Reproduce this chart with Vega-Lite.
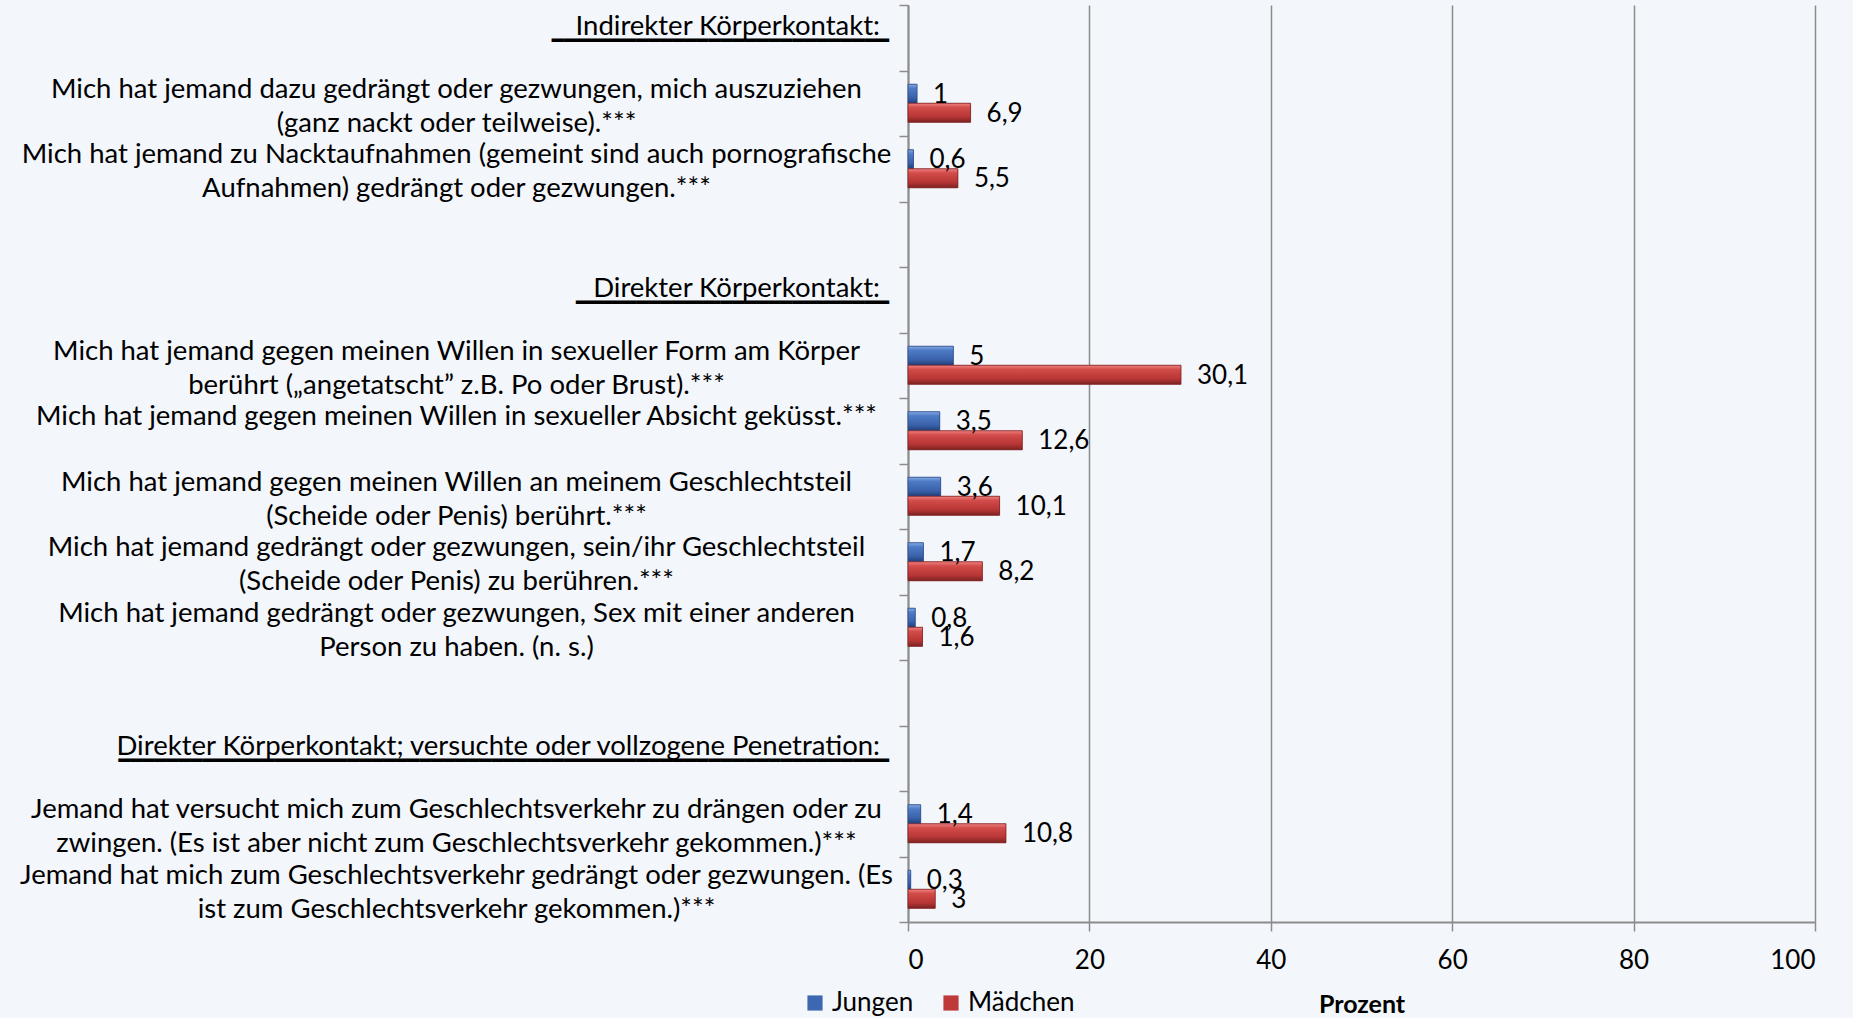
{
  "$schema": "https://vega.github.io/schema/vega-lite/v6.json",
  "width": 907,
  "height": 917,
  "autosize": {"type": "none"},
  "padding": {"left": 908, "top": 5, "right": 38, "bottom": 96},
  "background": "#F3F6FB",
  "config": {
    "view": {"stroke": null},
    "font": "Lato"
  },
  "datasets": {
    "bars": [
      {"label": "Mich hat jemand dazu gedrängt oder gezwungen, mich auszuziehen|(ganz nackt oder teilweise).***", "series": "Jungen", "value": 1, "valueText": "1"},
      {"label": "Mich hat jemand dazu gedrängt oder gezwungen, mich auszuziehen|(ganz nackt oder teilweise).***", "series": "Mädchen", "value": 6.9, "valueText": "6,9"},
      {"label": "Mich hat jemand zu Nacktaufnahmen (gemeint sind auch pornografische|Aufnahmen) gedrängt oder gezwungen.***", "series": "Jungen", "value": 0.6, "valueText": "0,6"},
      {"label": "Mich hat jemand zu Nacktaufnahmen (gemeint sind auch pornografische|Aufnahmen) gedrängt oder gezwungen.***", "series": "Mädchen", "value": 5.5, "valueText": "5,5"},
      {"label": "Mich hat jemand gegen meinen Willen in sexueller Form am Körper|berührt („angetatscht” z.B. Po oder Brust).***", "series": "Jungen", "value": 5, "valueText": "5"},
      {"label": "Mich hat jemand gegen meinen Willen in sexueller Form am Körper|berührt („angetatscht” z.B. Po oder Brust).***", "series": "Mädchen", "value": 30.1, "valueText": "30,1"},
      {"label": "Mich hat jemand gegen meinen Willen in sexueller Absicht geküsst.***", "series": "Jungen", "value": 3.5, "valueText": "3,5"},
      {"label": "Mich hat jemand gegen meinen Willen in sexueller Absicht geküsst.***", "series": "Mädchen", "value": 12.6, "valueText": "12,6"},
      {"label": "Mich hat jemand gegen meinen Willen an meinem Geschlechtsteil|(Scheide oder Penis) berührt.***", "series": "Jungen", "value": 3.6, "valueText": "3,6"},
      {"label": "Mich hat jemand gegen meinen Willen an meinem Geschlechtsteil|(Scheide oder Penis) berührt.***", "series": "Mädchen", "value": 10.1, "valueText": "10,1"},
      {"label": "Mich hat jemand gedrängt oder gezwungen, sein/ihr Geschlechtsteil|(Scheide oder Penis) zu berühren.***", "series": "Jungen", "value": 1.7, "valueText": "1,7"},
      {"label": "Mich hat jemand gedrängt oder gezwungen, sein/ihr Geschlechtsteil|(Scheide oder Penis) zu berühren.***", "series": "Mädchen", "value": 8.2, "valueText": "8,2"},
      {"label": "Mich hat jemand gedrängt oder gezwungen, Sex mit einer anderen|Person zu haben. (n. s.)", "series": "Jungen", "value": 0.8, "valueText": "0,8"},
      {"label": "Mich hat jemand gedrängt oder gezwungen, Sex mit einer anderen|Person zu haben. (n. s.)", "series": "Mädchen", "value": 1.6, "valueText": "1,6"},
      {"label": "Jemand hat versucht mich zum Geschlechtsverkehr zu drängen oder zu|zwingen. (Es ist aber nicht zum Geschlechtsverkehr gekommen.)***", "series": "Jungen", "value": 1.4, "valueText": "1,4"},
      {"label": "Jemand hat versucht mich zum Geschlechtsverkehr zu drängen oder zu|zwingen. (Es ist aber nicht zum Geschlechtsverkehr gekommen.)***", "series": "Mädchen", "value": 10.8, "valueText": "10,8"},
      {"label": "Jemand hat mich zum Geschlechtsverkehr gedrängt oder gezwungen. (Es|ist zum Geschlechtsverkehr gekommen.)***", "series": "Jungen", "value": 0.3, "valueText": "0,3"},
      {"label": "Jemand hat mich zum Geschlechtsverkehr gedrängt oder gezwungen. (Es|ist zum Geschlechtsverkehr gekommen.)***", "series": "Mädchen", "value": 3, "valueText": "3"}
    ],
    "headers": [
      {"label": "Indirekter Körperkontakt:", "value": 0},
      {"label": "Direkter Körperkontakt:", "value": 0},
      {"label": "Direkter Körperkontakt; versuchte oder vollzogene Penetration:", "value": 0}
    ]
  },
  "data": {"name": "bars"},
  "encoding": {
    "y": {
      "field": "label",
      "type": "nominal",
      "sort": null,
      "scale": {
        "domain": [
          "Indirekter Körperkontakt:",
          "Mich hat jemand dazu gedrängt oder gezwungen, mich auszuziehen|(ganz nackt oder teilweise).***",
          "Mich hat jemand zu Nacktaufnahmen (gemeint sind auch pornografische|Aufnahmen) gedrängt oder gezwungen.***",
          " ",
          "Direkter Körperkontakt:",
          "Mich hat jemand gegen meinen Willen in sexueller Form am Körper|berührt („angetatscht” z.B. Po oder Brust).***",
          "Mich hat jemand gegen meinen Willen in sexueller Absicht geküsst.***",
          "Mich hat jemand gegen meinen Willen an meinem Geschlechtsteil|(Scheide oder Penis) berührt.***",
          "Mich hat jemand gedrängt oder gezwungen, sein/ihr Geschlechtsteil|(Scheide oder Penis) zu berühren.***",
          "Mich hat jemand gedrängt oder gezwungen, Sex mit einer anderen|Person zu haben. (n. s.)",
          "  ",
          "Direkter Körperkontakt; versuchte oder vollzogene Penetration:",
          "Jemand hat versucht mich zum Geschlechtsverkehr zu drängen oder zu|zwingen. (Es ist aber nicht zum Geschlechtsverkehr gekommen.)***",
          "Jemand hat mich zum Geschlechtsverkehr gedrängt oder gezwungen. (Es|ist zum Geschlechtsverkehr gekommen.)***"
        ],
        "paddingInner": 0,
        "paddingOuter": 0
      },
      "axis": {
        "title": null,
        "tickBand": "extent",
        "labelExpr": "indexof(datum.label, 'Körperkontakt') >= 0 ? '' : split(datum.label, '|')",
        "labelFont": "Lato",
        "labelFontSize": 27.5,
        "labelColor": "#000000",
        "labelLineHeight": 34,
        "labelLimit": 0,
        "labelAlign": "center",
        "labelPadding": 443,
        "labelOffset": -14,
        "domainColor": "#8C8C8C",
        "domainWidth": 2,
        "tickColor": "#8C8C8C",
        "tickWidth": 1.5,
        "tickSize": 9,
        "grid": false
      }
    },
    "x": {
      "field": "value",
      "type": "quantitative",
      "scale": {"domain": [0, 100], "nice": false},
      "axis": {
        "values": [0, 20, 40, 60, 80, 100],
        "grid": true,
        "gridColor": "#8C8C8C",
        "gridWidth": 1.5,
        "domainColor": "#8C8C8C",
        "domainWidth": 2,
        "tickColor": "#8C8C8C",
        "tickWidth": 1.5,
        "tickSize": 9,
        "labelFont": "Lato",
        "labelFontSize": 26,
        "labelColor": "#000000",
        "labelPadding": 16,
        "title": "Prozent",
        "titleFont": "Lato",
        "titleFontSize": 25,
        "titleFontWeight": "bold",
        "titleColor": "#000000",
        "titlePadding": 19
      }
    }
  },
  "layer": [
    {
      "mark": {"type": "bar"},
      "encoding": {
        "yOffset": {"field": "series", "type": "nominal", "scale": {"domain": ["Jungen", "Mädchen"], "paddingInner": 0, "paddingOuter": 0.72}},
        "color": {
          "field": "series", "type": "nominal",
          "scale": {"domain": ["Jungen", "Mädchen"], "range": ["#3D67B0", "#C0393A"]},
          "legend": {"title": null, "orient": "none", "legendX": -106, "legendY": 985, "direction": "horizontal", "symbolType": "square", "symbolSize": 230, "symbolStrokeWidth": 0, "labelFontSize": 26, "labelFont": "Lato", "labelColor": "#000000", "columnPadding": 24, "labelOffset": 4, "padding": 0}
        }
      }
    },
    {
      "transform": [{"filter": "datum.series == 'Jungen'"}],
      "mark": {
        "type": "bar",
        "stroke": "#2B4C8A",
        "strokeWidth": 0.8,
        "fill": {"gradient": "linear", "x1": 0, "y1": 0, "x2": 0, "y2": 1, "stops": [
          {"offset": 0, "color": "#86AAE3"},
          {"offset": 0.22, "color": "#4E7BC6"},
          {"offset": 0.7, "color": "#3A62AA"},
          {"offset": 1, "color": "#213E78"}
        ]}
      },
      "encoding": {
        "yOffset": {"field": "series", "type": "nominal", "scale": {"domain": ["Jungen", "Mädchen"], "paddingInner": 0, "paddingOuter": 0.72}}
      }
    },
    {
      "transform": [{"filter": "datum.series == 'Mädchen'"}],
      "mark": {
        "type": "bar",
        "stroke": "#7E2222",
        "strokeWidth": 0.8,
        "fill": {"gradient": "linear", "x1": 0, "y1": 0, "x2": 0, "y2": 1, "stops": [
          {"offset": 0, "color": "#F08482"},
          {"offset": 0.22, "color": "#D24C4A"},
          {"offset": 0.7, "color": "#B83636"},
          {"offset": 1, "color": "#7C2323"}
        ]}
      },
      "encoding": {
        "yOffset": {"field": "series", "type": "nominal", "scale": {"domain": ["Jungen", "Mädchen"], "paddingInner": 0, "paddingOuter": 0.72}}
      }
    },
    {
      "mark": {"type": "text", "align": "left", "baseline": "middle", "dx": 16, "dy": 1, "font": "Lato", "fontSize": 26, "color": "#000000"},
      "encoding": {
        "yOffset": {"field": "series", "type": "nominal", "scale": {"domain": ["Jungen", "Mädchen"], "paddingInner": 0, "paddingOuter": 0.72}},
        "text": {"field": "valueText", "type": "nominal"}
      }
    },
    {
      "data": {"name": "headers"},
      "mark": {"type": "text", "clip": false, "align": "right", "baseline": "middle", "dx": -28, "dy": -11, "font": "Lato", "fontSize": 27.5, "color": "#000000"},
      "encoding": {
        "text": {"field": "label", "type": "nominal"}
      }
    },
    {
      "data": {"values": [{"label": "Indirekter Körperkontakt:", "value": 0}]},
      "mark": {"type": "text", "clip": false, "align": "right", "baseline": "middle", "dx": -19, "dy": 3, "font": "DejaVu Sans Mono", "fontSize": 20, "color": "#000000"},
      "encoding": {"text": {"value": "━━━━━━━━━━━━━━━━━━━━━━━━━━━━"}}
    },
    {
      "data": {"values": [{"label": "Direkter Körperkontakt:", "value": 0}]},
      "mark": {"type": "text", "clip": false, "align": "right", "baseline": "middle", "dx": -19, "dy": 3, "font": "DejaVu Sans Mono", "fontSize": 20, "color": "#000000"},
      "encoding": {"text": {"value": "━━━━━━━━━━━━━━━━━━━━━━━━━━"}}
    },
    {
      "data": {"values": [{"label": "Direkter Körperkontakt; versuchte oder vollzogene Penetration:", "value": 0}]},
      "mark": {"type": "text", "clip": false, "align": "right", "baseline": "middle", "dx": -19, "dy": 3, "font": "DejaVu Sans Mono", "fontSize": 20, "color": "#000000"},
      "encoding": {"text": {"value": "━━━━━━━━━━━━━━━━━━━━━━━━━━━━━━━━━━━━━━━━━━━━━━━━━━━━━━━━━━━━━━━━"}}
    }
  ]
}
